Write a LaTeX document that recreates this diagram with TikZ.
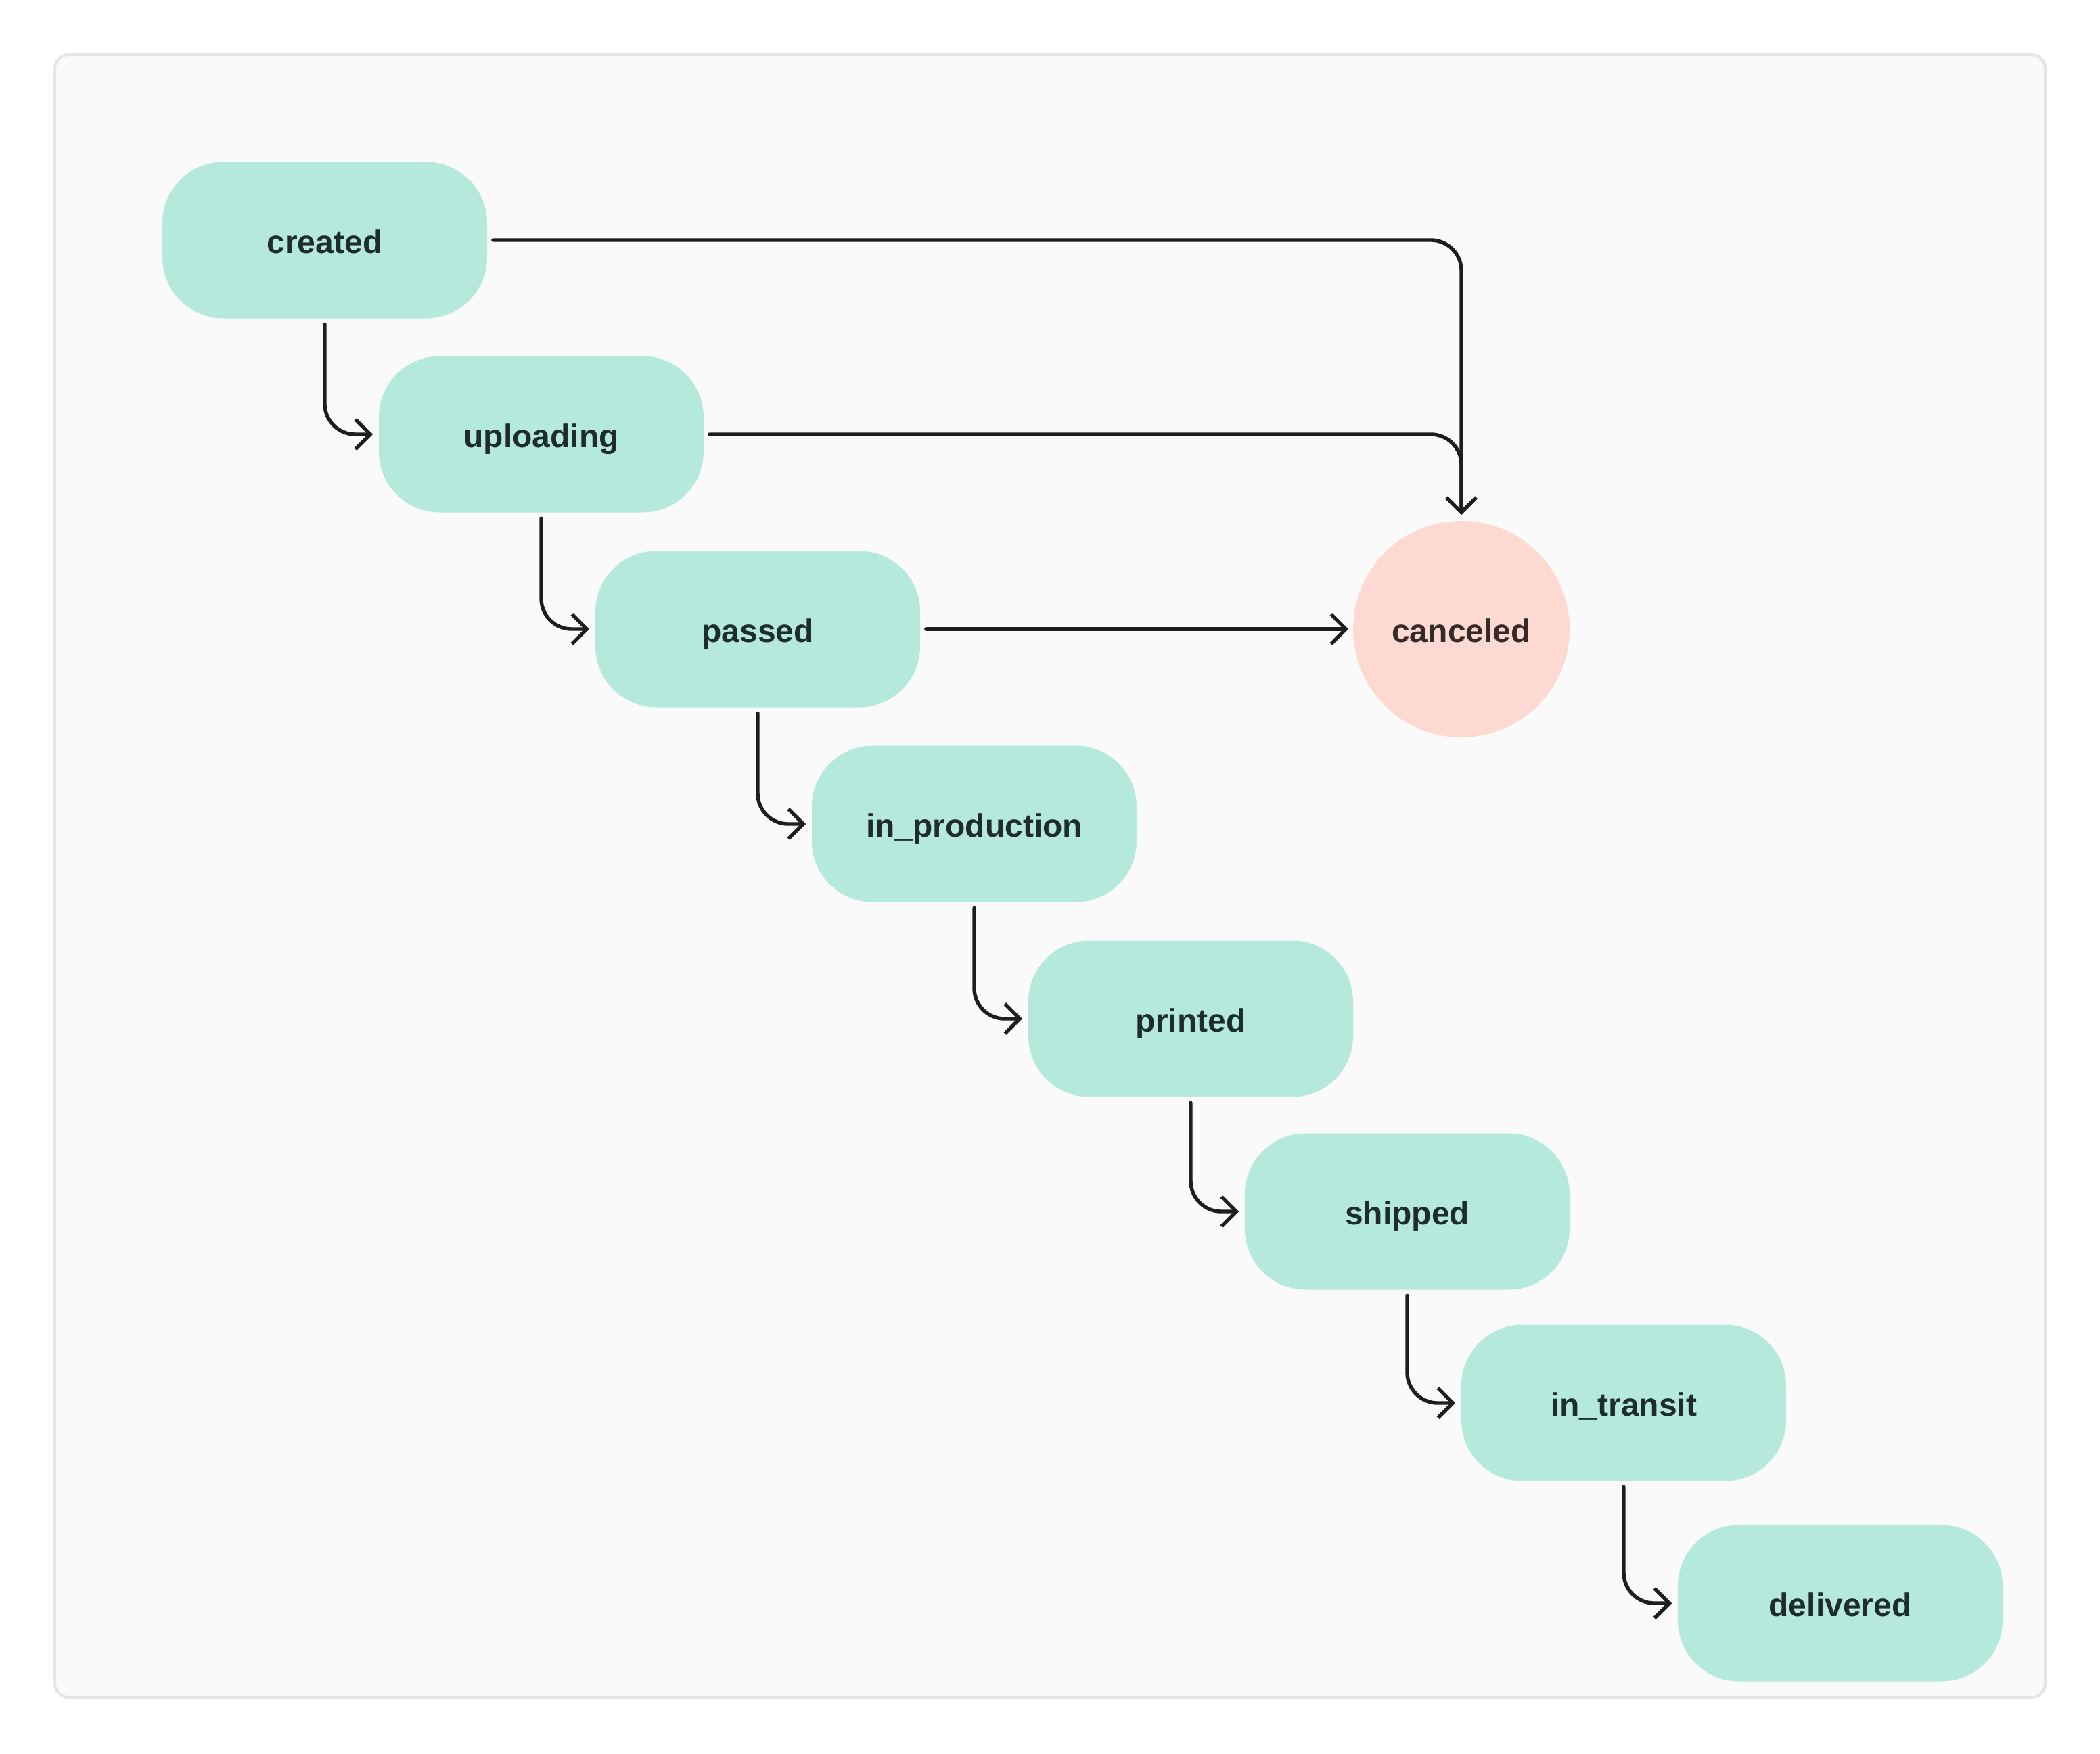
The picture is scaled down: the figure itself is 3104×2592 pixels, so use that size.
\documentclass[tikz,border=0pt]{standalone}
\usepackage{fontspec}
\setmainfont{Liberation Sans}
\usetikzlibrary{arrows.meta}
\definecolor{stateFill}{HTML}{B4E9DC}
\definecolor{stateText}{HTML}{1F2D2A}
\definecolor{endFill}{HTML}{FCDAD2}
\definecolor{endText}{HTML}{352A27}
\definecolor{frameFill}{HTML}{FAFAFA}
\definecolor{frameLine}{HTML}{E5E5E5}
\definecolor{lineCol}{HTML}{1E1E1E}
\tikzset{
  statebox/.style={rectangle, rounded corners=22.5pt, fill=stateFill, text=stateText,
    minimum width=120pt, minimum height=57.75pt, inner sep=0pt,
    text height=9.5pt, text depth=0pt,
    font=\fontsize{12pt}{14pt}\selectfont\bfseries},
  endstate/.style={circle, fill=endFill, text=endText, minimum size=80pt, inner sep=0pt,
    text height=9.5pt, text depth=0pt,
    font=\fontsize{12pt}{14pt}\selectfont\bfseries},
  conn/.style={draw=lineCol, line width=1.35pt, line cap=round, rounded corners=11.25pt,
    -{Straight Barb[length=5.5pt,width=11pt,line width=1.35pt]}},
}
\begin{document}
\begin{tikzpicture}[x=0.25pt,y=-0.25pt]
\useasboundingbox (0,0) rectangle (3104,2592);
\fill[white] (0,0) rectangle (3104,2592);
\draw[fill=frameFill, draw=frameLine, line width=1pt, rounded corners=5pt] (81,81) rectangle (3023,2509);

\node[statebox] (created) at (480,355) {created};
\node[statebox] (uploading) at (800,642) {uploading};
\node[statebox] (passed) at (1120,930) {passed};
\node[statebox] (inproduction) at (1440,1218) {in\_production};
\node[statebox] (printed) at (1760,1506) {printed};
\node[statebox] (shipped) at (2080,1791) {shipped};
\node[statebox] (intransit) at (2400,2074) {in\_transit};
\node[statebox] (delivered) at (2720,2370) {delivered};
\node[endstate] (canceled) at (2160,930) {canceled};

\draw[conn] ([xshift=2pt]created.east) -| ([yshift=2pt]canceled.north);
\draw[conn] ([xshift=2pt]uploading.east) -| ([yshift=2pt]canceled.north);
\draw[conn] ([xshift=2pt]passed.east) -- ([xshift=-1.5pt]canceled.west);

\draw[conn] ([yshift=-2pt]created.south) |- ([xshift=-2pt]uploading.west);
\draw[conn] ([yshift=-2pt]uploading.south) |- ([xshift=-2pt]passed.west);
\draw[conn] ([yshift=-2pt]passed.south) |- ([xshift=-2pt]inproduction.west);
\draw[conn] ([yshift=-2pt]inproduction.south) |- ([xshift=-2pt]printed.west);
\draw[conn] ([yshift=-2pt]printed.south) |- ([xshift=-2pt]shipped.west);
\draw[conn] ([yshift=-2pt]shipped.south) |- ([xshift=-2pt]intransit.west);
\draw[conn] ([yshift=-2pt]intransit.south) |- ([xshift=-2pt]delivered.west);
\end{tikzpicture}
\end{document}
